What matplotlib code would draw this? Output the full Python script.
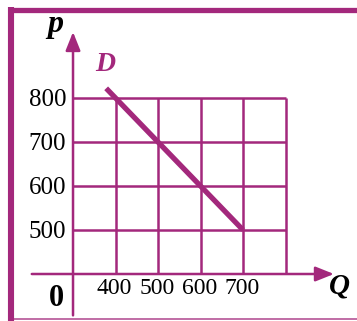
import matplotlib
matplotlib.use("Agg")
import matplotlib.pyplot as plt
import numpy as np

# ==== data ====
q_ticks = [400, 500, 600, 700]
p_ticks = [500, 600, 700, 800]
grid_q = [400, 500, 600, 700, 800]   # vertical grid lines
grid_p = [500, 600, 700, 800]        # horizontal grid lines
demand_q = np.array([378, 700])
demand_p = np.array([822, 500])

# axes origin sits at (300, 400) in data units (broken axes)
Q0, P0 = 300, 400

PURPLE = "#A3287C"
SERIF = ["Liberation Serif", "DejaVu Serif"]

fig = plt.figure(figsize=(3.57, 3.21), dpi=100)
ax = fig.add_axes([0, 0, 1, 1])
ax.set_xlim(128.2, 968.2)
ax.set_ylim(293.2, 1022.7)
ax.axis("off")

# --- frame ---
ax.plot([0.031, 0.031], [0, 0.978], transform=ax.transAxes, color=PURPLE, lw=4.4,
        solid_capstyle="butt")
ax.plot([0.022, 1.0], [0.970, 0.970], transform=ax.transAxes, color=PURPLE, lw=3.8,
        solid_capstyle="butt")
ax.plot([0.022, 1.0], [0.006, 0.006], transform=ax.transAxes, color=PURPLE, lw=1.2,
        alpha=0.8, solid_capstyle="butt")

# --- grid ---
for p in grid_p:
    ax.plot([Q0, 800], [p, p], color=PURPLE, lw=1.8, solid_capstyle="butt")
for q in grid_q:
    ax.plot([q, q], [P0, 800], color=PURPLE, lw=1.8, solid_capstyle="butt")

# --- axes with arrows ---
arrow = dict(arrowstyle="-|>,head_length=0.8,head_width=0.32", color=PURPLE, lw=1.8,
             shrinkA=0, shrinkB=0, mutation_scale=14)
ax.annotate("", xy=(914, P0), xytext=(203, P0), arrowprops=arrow)
ax.annotate("", xy=(Q0, 950), xytext=(Q0, 306), arrowprops=arrow)

# --- demand curve ---
ax.plot(demand_q, demand_p, color=PURPLE, lw=3.8, solid_capstyle="butt")

# --- tick labels ---
for p in p_ticks:
    ax.text(284, p - 5, str(p), ha="right", va="center", fontsize=18, family=SERIF)
for q in q_ticks:
    ax.text(q - 2, 367, str(q), ha="center", va="center", fontsize=17, family=SERIF)

# --- axis names ---
ax.text(262, 345, "0", ha="center", va="center", fontsize=22, fontweight="bold",
        family=SERIF)
ax.text(258, 950, "p", ha="center", va="baseline", fontsize=23, fontweight="bold",
        fontstyle="italic", family=SERIF)
ax.text(375, 862, "D", ha="center", va="baseline", fontsize=20, fontweight="bold",
        fontstyle="italic", family=SERIF, color=PURPLE)
ax.text(928, 355, "Q", ha="center", va="baseline", fontsize=21, fontweight="bold",
        fontstyle="italic", family=SERIF)

fig.savefig("out.png", dpi=100)
